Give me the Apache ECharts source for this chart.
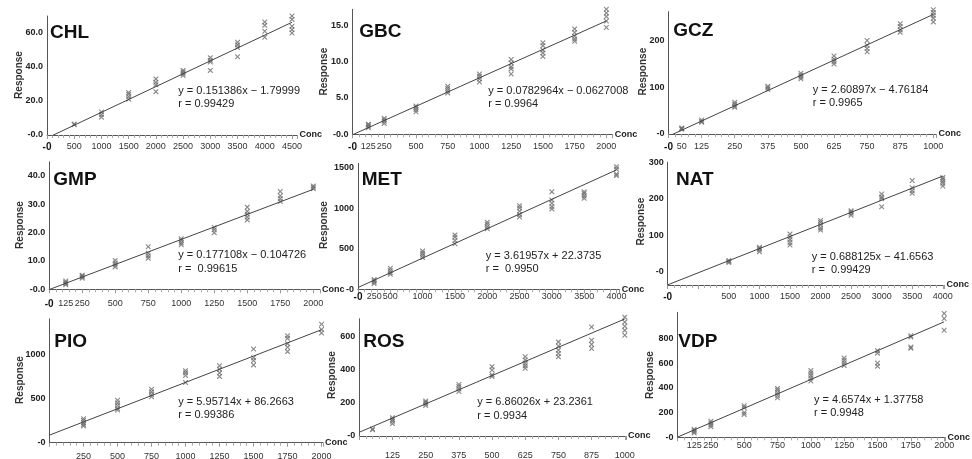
<!DOCTYPE html>
<html>
<head>
<meta charset="utf-8">
<script src="https://cdn.jsdelivr.net/npm/echarts@6/dist/echarts.min.js"></script>
<style>
html,body{margin:0;padding:0;background:#fff}
#chart{width:972px;height:459px}
</style>
</head>
<body>
<div id="chart"></div>
<script>
// ---- data ----
var chlConc = [500,1000,1500,2000,2500,3000,3500,4000,4500];
var chlResp = [[6,6.5],[10.5,12,13.5],[21,22.5,24,25],[25.5,29.5,31,33],[35,36,37,38],[38,43,44,45.5],[46,51.5,53,54.5],[57.5,61,64.5,66.5],[60,62,64,68,70]];
var chlFit = [[0,-1.8],[4500,66.3]];
var chlEq = ['y = 0.151386x − 1.79999','r = 0.99429'];
var chlXTicks = [0,500,1000,1500,2000,2500,3000,3500,4000,4500];
var chlYTicks = [0,20,40,60];

var gbcConc = [125,250,500,750,1000,1250,1500,1750,2000];
var gbcResp = [[0.9,1.1,1.3,1.4],[1.5,1.8,2.0,2.2],[3.1,3.4,3.7,3.9],[5.7,6.0,6.3,6.6],[7.2,7.6,8.0,8.3],[8.3,9.0,9.3,9.8,10.3],[10.7,11.2,11.6,12.2,12.6],[12.8,13.1,13.5,14.0,14.5],[14.7,15.6,16.2,16.7,17.2]];
var gbcFit = [[0,-0.06],[2000,15.6]];
var gbcEq = ['y = 0.0782964x − 0.0627008','r = 0.9964'];
var gbcXTicks = [0,125,250,500,750,1000,1250,1500,1750,2000];
var gbcYTicks = [0,5,10,15];

var gczConc = [50,125,250,375,500,625,750,875,1000];
var gczResp = [[10,12,13],[25,27,30],[57,60,64,68],[95,99,102],[118,122,126,130],[150,155,160,167],[176,183,190,200],[218,223,230,236],[240,248,254,260,266]];
var gczFit = [[0,-4.8],[1000,256]];
var gczEq = ['y = 2.60897x − 4.76184','r = 0.9965'];
var gczXTicks = [0,50,125,250,375,500,625,750,875,1000];
var gczYTicks = [0,100,200];

var gmpConc = [125,250,500,750,1000,1250,1500,1750,2000];
var gmpResp = [[1.6,2.0,2.4,2.9],[3.9,4.3,4.7,5.0],[7.9,8.6,9.3,10.2],[11,11.8,12.7,15],[15.7,16.4,17.2,17.8],[20,21,21.8],[24.5,25.5,26.5,27.5,29],[31,32,33,34.5],[35.5,36,36.5]];
var gmpFit = [[0,-0.1],[2000,35.3]];
var gmpEq = ['y = 0.177108x − 0.104726','r =  0.99615'];
var gmpXTicks = [0,125,250,500,750,1000,1250,1500,1750,2000];
var gmpYTicks = [0,10,20,30,40];

var metConc = [250,500,1000,1500,2000,2500,3000,3500,4000];
var metResp = [[70,90,105,120],[185,205,230,260],[390,420,445,470],[560,600,640,670],[745,770,800,825],[890,920,960,1000,1030],[990,1020,1060,1100,1200],[1120,1150,1180,1200],[1400,1420,1480,1510]];
var metFit = [[0,22],[4000,1470]];
var metEq = ['y = 3.61957x + 22.3735','r =  0.9950'];
var metXTicks = [0,250,500,1000,1500,2000,2500,3000,3500,4000];
var metYTicks = [0,500,1000,1500];

var natConc = [500,1000,1500,2000,2500,3000,3500,4000];
var natResp = [[25,28,31],[55,60,64,67],[73,80,88,95,103],[114,120,128,135,140],[155,160,164,167],[178,200,205,213],[215,222,230,250],[235,242,248,254,258]];
var natFit = [[-500,-36],[4000,262]];
var natEq = ['y = 0.688125x − 41.6563','r =  0.99429'];
var natXTicks = [-500,500,1000,1500,2000,2500,3000,3500,4000];
var natYTicks = [0,100,200,300];

var pioConc = [250,500,750,1000,1250,1500,1750,2000];
var pioResp = [[190,205,225,250,270],[370,390,420,450,480],[520,545,575,605],[680,760,790,815],[750,790,830,870],[880,930,960,1060],[1030,1080,1120,1180,1210],[1240,1280,1340]];
var pioFit = [[0,86],[2000,1278]];
var pioEq = ['y = 5.95714x + 86.2663','r = 0.99386'];
var pioXTicks = [250,500,750,1000,1250,1500,1750,2000];
var pioYTicks = [0,500,1000];

var rosConc = [50,125,250,375,500,625,750,875,1000];
var rosResp = [[38,42],[75,90,100,110],[185,195,205,212],[270,285,300,312],[360,370,400,420],[410,425,440,460,480],[480,500,520,545,570],[530,555,580,660],[610,640,665,690,720]];
var rosFit = [[0,23],[1000,709]];
var rosEq = ['y = 6.86026x + 23.2361','r = 0.9934'];
var rosXTicks = [125,250,375,500,625,750,875,1000];
var rosYTicks = [0,200,400,600];

var vdpConc = [125,250,500,750,1000,1250,1500,1750,2000];
var vdpResp = [[35,45,55,65],[85,100,115,130],[185,200,240,255],[320,340,360,380,395],[455,480,500,520,540],[580,600,620,640],[575,600,680,700],[720,730,810,820],[865,960,1000]];
var vdpFit = [[0,1.4],[2000,933]];
var vdpEq = ['y = 4.6574x + 1.37758','r = 0.9948'];
var vdpXTicks = [125,250,500,750,1000,1250,1500,1750,2000];
var vdpYTicks = [0,200,400,600,800];

// ---- layout of each panel ----
var panels = [
  {name:'CHL', conc:chlConc, resp:chlResp, fit:chlFit, eq:chlEq, xt:chlXTicks, yt:chlYTicks, dec:1,
   box:[47,16,250.4,119], x:[0,4600], xi:500, y:[0,70], lm:7, t:[50,32.7], e:[178.3,91], r:[19,75]},
  {name:'GBC', conc:gbcConc, resp:gbcResp, fit:gbcFit, eq:gbcEq, xt:gbcXTicks, yt:gbcYTicks, dec:1,
   box:[352.5,9.3,260.2,125], x:[0,2050], xi:250, y:[0,17.2], lm:8, t:[359.3,32], e:[488.3,90.7], r:[324,71.7]},
  {name:'GCZ', conc:gczConc, resp:gczResp, fit:gczFit, eq:gczEq, xt:gczXTicks, yt:gczYTicks, dec:0,
   box:[668.5,11.6,268,122.4], x:[0,1012], xi:125, y:[0,262], lm:8, t:[673.3,31], e:[812.7,90], r:[643,71.7]},
  {name:'GMP', conc:gmpConc, resp:gmpResp, fit:gmpFit, eq:gmpEq, xt:gmpXTicks, yt:gmpYTicks, dec:1,
   box:[49.2,161.8,270.7,127.5], x:[0,2050], xi:250, y:[0,45], lm:10, t:[53.3,180], e:[178.3,255.3], r:[20.7,225]},
  {name:'MET', conc:metConc, resp:metResp, fit:metFit, eq:metEq, xt:metXTicks, yt:metYTicks, dec:0,
   box:[358,163.4,261.7,125.9], x:[0,4050], xi:500, y:[0,1550], lm:3, t:[361.7,179.7], e:[485.7,256], r:[324,225]},
  {name:'NAT', conc:natConc, resp:natResp, fit:natFit, eq:natEq, xt:natXTicks, yt:natYTicks, dec:0,
   box:[667.7,162.2,276.9,122.8], x:[-500,4030], xi:500, y:[-36.4,300], lm:7, t:[676,179.3], e:[811.7,256.7], r:[641.7,221.7]},
  {name:'PIO', conc:pioConc, resp:pioResp, fit:pioFit, eq:pioEq, xt:pioXTicks, yt:pioYTicks, dec:0,
   box:[49.5,318.9,273.4,123.8], x:[0,2010], xi:250, y:[0,1400], lm:9, t:[54.3,341.7], e:[178.3,401.7], r:[20,380]},
  {name:'ROS', conc:rosConc, resp:rosResp, fit:rosFit, eq:rosEq, xt:rosXTicks, yt:rosYTicks, dec:0,
   box:[359.3,318.8,266.8,117.2], x:[0,1005], xi:125, y:[0,710], lm:15, t:[363.3,341.7], e:[477.3,402.3], r:[332.7,375]},
  {name:'VDP', conc:vdpConc, resp:vdpResp, fit:vdpFit, eq:vdpEq, xt:vdpXTicks, yt:vdpYTicks, dec:0,
   box:[677.5,312.3,268,125], x:[0,2010], xi:250, y:[0,1010], lm:4, t:[678.3,341.7], e:[814,400], r:[650,375]}
];

var SANS = '"Liberation Sans", Arial, sans-serif';
var CROSS = 'path://M0,0 L1.6,0 L5,3.4 L8.4,0 L10,0 L10,1.6 L6.6,5 L10,8.4 L10,10 L8.4,10 L5,6.6 L1.6,10 L0,10 L0,8.4 L3.4,5 L0,1.6 Z';

function toPoints(conc, resp){
  var out = [];
  conc.forEach(function(c, i){
    resp[i].forEach(function(v){ out.push([c, v]); });
  });
  return out;
}

var grid = [], xAxis = [], yAxis = [], series = [], graphic = [];

panels.forEach(function(p, i){
  grid.push({left:p.box[0], top:p.box[1], width:p.box[2], height:p.box[3], outerBoundsMode:'none'});
  var xMin = p.x[0], dec = p.dec;
  xAxis.push({
    type:'value', gridIndex:i, min:p.x[0], max:p.x[1], interval:p.xi,
    axisLine:{show:true, onZero:false, lineStyle:{color:'#555', width:1}},
    axisTick:{show:true, length:4, lineStyle:{color:'#9a9a9a'}},
    minorTick:{show:true, splitNumber:5, length:3, lineStyle:{color:'#ababab'}},
    splitLine:{show:false},
    axisLabel:{
      customValues:p.xt, margin:p.lm, fontFamily:SANS, fontSize:9, color:'#333',
      formatter:function(v){ return v === xMin ? '{z|-0}' : String(v); },
      rich:{z:{fontFamily:SANS, fontWeight:'bold', fontSize:10, color:'#111'}}
    },
    name:'Conc', nameLocation:'end', nameGap:2, nameMoveOverlap:false,
    nameTextStyle:{fontFamily:SANS, fontWeight:'bold', fontSize:9, color:'#222'}
  });
  yAxis.push({
    type:'value', gridIndex:i, min:p.y[0], max:p.y[1],
    axisLine:{show:true, onZero:false, lineStyle:{color:'#555', width:1}},
    axisTick:{show:false},
    splitLine:{show:false},
    axisLabel:{
      customValues:p.yt, margin:4, fontFamily:SANS, fontWeight:'bold', fontSize:9, color:'#222',
      formatter:function(v){ return v === 0 ? (dec ? '-0.0' : '-0') : v.toFixed(dec); }
    }
  });
  series.push({
    type:'line', xAxisIndex:i, yAxisIndex:i, data:p.fit, symbol:'none', clip:true,
    lineStyle:{color:'#444', width:1}, silent:true
  });
  series.push({
    type:'scatter', xAxisIndex:i, yAxisIndex:i, data:toPoints(p.conc, p.resp),
    symbol:CROSS, symbolSize:5, itemStyle:{color:'#6a6a6a'}, clip:false
  });
  graphic.push({
    type:'text', x:p.t[0], y:p.t[1],
    style:{text:p.name, font:'bold 19px ' + SANS, fill:'#111', textAlign:'left', textVerticalAlign:'middle'}
  });
  graphic.push({
    type:'text', x:p.e[0], y:p.e[1],
    style:{text:p.eq[0], font:'11px ' + SANS, fill:'#222', textAlign:'left', textVerticalAlign:'middle'}
  });
  graphic.push({
    type:'text', x:p.e[0], y:p.e[1] + 13.3,
    style:{text:p.eq[1], font:'11px ' + SANS, fill:'#222', textAlign:'left', textVerticalAlign:'middle'}
  });
  graphic.push({
    type:'text', x:p.r[0], y:p.r[1], rotation:Math.PI / 2,
    style:{text:'Response', font:'bold 10px ' + SANS, fill:'#333', textAlign:'center', textVerticalAlign:'middle'}
  });
});

var chart = echarts.init(document.getElementById('chart'));
chart.setOption({
  animation:false,
  backgroundColor:'#fff',
  grid:grid,
  xAxis:xAxis,
  yAxis:yAxis,
  series:series,
  graphic:graphic
});
</script>
</body>
</html>
